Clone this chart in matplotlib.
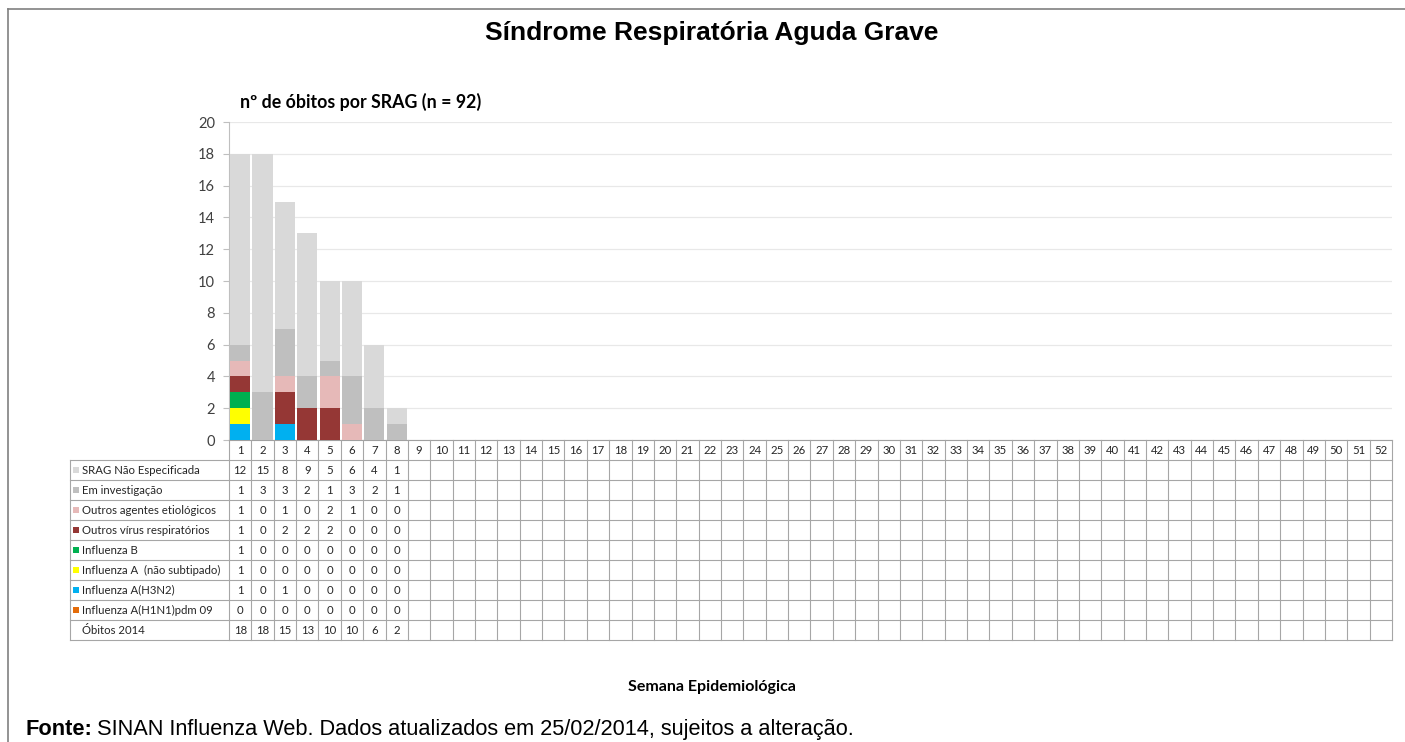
import matplotlib
matplotlib.use("Agg")
import matplotlib.pyplot as plt
from matplotlib.patches import Rectangle
from matplotlib.lines import Line2D

# ---------------- data ----------------
weeks = list(range(1, 53))
series_names = [
    "SRAG Não Especificada",
    "Em investigação",
    "Outros agentes etiológicos",
    "Outros vírus respiratórios",
    "Influenza B",
    "Influenza A  (não subtipado)",
    "Influenza A(H3N2)",
    "Influenza A(H1N1)pdm 09",
]
srag_nao_especificada = [12, 15, 8, 9, 5, 6, 4, 1]
em_investigacao = [1, 3, 3, 2, 1, 3, 2, 1]
outros_agentes = [1, 0, 1, 0, 2, 1, 0, 0]
outros_virus = [1, 0, 2, 2, 2, 0, 0, 0]
influenza_b = [1, 0, 0, 0, 0, 0, 0, 0]
influenza_a_nao_sub = [1, 0, 0, 0, 0, 0, 0, 0]
influenza_h3n2 = [1, 0, 1, 0, 0, 0, 0, 0]
influenza_h1n1 = [0, 0, 0, 0, 0, 0, 0, 0]
obitos_2014 = [18, 18, 15, 13, 10, 10, 6, 2]
total_label = "Óbitos 2014"

series_values = [srag_nao_especificada, em_investigacao, outros_agentes, outros_virus,
                 influenza_b, influenza_a_nao_sub, influenza_h3n2, influenza_h1n1]
series_colors = ["#d9d9d9", "#bfbfbf", "#e6b9b8", "#953735",
                 "#00b050", "#ffff00", "#00b0f0", "#e46c0a"]

title = "Síndrome Respiratória Aguda Grave"
subtitle = "nº de óbitos por SRAG (n = 92)"
xlabel = "Semana Epidemiológica"
source_bold = "Fonte:"
source_text = "SINAN Influenza Web. Dados atualizados em 25/02/2014, sujeitos a alteração."
yticks = [0, 2, 4, 6, 8, 10, 12, 14, 16, 18, 20]

# ---------------- layout helpers ----------------
W, H = 1405, 742
fig = plt.figure(figsize=(W / 100, H / 100), dpi=100)
fig.patch.set_facecolor("white")

def fx(px):
    return px / W

def fy(py):
    return 1 - py / H

calibri = ["Lato", "DejaVu Sans"]
arial = ["Liberation Sans", "DejaVu Sans"]

ax_l, ax_r, ax_t, ax_b = 229, 1392, 122, 440
ax = fig.add_axes([fx(ax_l), fy(ax_b), fx(ax_r - ax_l), (ax_b - ax_t) / H])

# stacked bars (bottom-up order: reverse of table order)
n = len(obitos_2014)
bottom = [0] * n
for vals, col in zip(reversed(series_values), reversed(series_colors)):
    ax.bar(weeks[:n], vals, bottom=bottom, width=0.9, color=col, linewidth=0, zorder=3)
    bottom = [b + v for b, v in zip(bottom, vals)]

ax.set_xlim(0.5, 52.5)
ax.set_ylim(0, 20)
ax.set_yticks(yticks)
ax.set_yticklabels([str(t) for t in yticks], fontfamily=calibri, fontsize=10.5, color="#404040")
ax.set_xticks([])
ax.yaxis.grid(True, color="#e8e8e8", linewidth=0.9, zorder=0)
for s in ["top", "right"]:
    ax.spines[s].set_visible(False)
ax.spines["left"].set_color("#bfbfbf")
ax.spines["bottom"].set_color("#a0a0a0")
ax.tick_params(axis="y", length=4, color="#bfbfbf", pad=6)

# ---------------- data table ----------------
tab_l, tab_t, tab_b = 70, 440, 640
unit = (ax_r - ax_l) / 52.0
left = 0.5 - (ax_l - tab_l) / unit
tax = fig.add_axes([fx(tab_l), fy(tab_b), fx(ax_r - tab_l), (tab_b - tab_t) / H])
tax.set_xlim(left, 52.5)
tax.set_ylim(10, 0)
tax.axis("off")

lc = "#a6a6a6"
lw = 0.8
for r in range(1, 11):
    tax.add_line(Line2D([left, 52.5], [r, r], color=lc, lw=lw, clip_on=False))
for k in range(53):
    x = 0.5 + k
    tax.add_line(Line2D([x, x], [0, 10], color=lc, lw=lw, clip_on=False))
tax.add_line(Line2D([left, left], [1, 10], color=lc, lw=lw, clip_on=False))

tfont = dict(fontfamily=calibri, fontsize=8.2, color="#262626")
for w in weeks:
    tax.text(w, 0.5, str(w), ha="center", va="center", **tfont)

rows = series_values + [obitos_2014]
labels = series_names + [total_label]
sq_w = 6 / unit
for r, (lab, vals) in enumerate(zip(labels, rows), start=1):
    if r <= len(series_colors):
        tax.add_patch(Rectangle((left + 3 / unit, r + 0.5 - 0.15), sq_w, 0.3,
                                facecolor=series_colors[r - 1], edgecolor="none", clip_on=False))
    tax.text(left + 12 / unit, r + 0.5, lab, ha="left", va="center", **tfont)
    for w, v in zip(weeks, vals):
        tax.text(w, r + 0.5, str(v), ha="center", va="center", **tfont)

# ---------------- texts ----------------
fig.text(fx(712), fy(33), title, ha="center", va="center", fontfamily=arial,
         fontsize=19, fontweight="bold", color="black")
fig.text(fx(240), fy(102), subtitle, ha="left", va="center", fontfamily=calibri,
         fontsize=12.8, fontweight="bold", color="black")
fig.text(fx(712), fy(687), xlabel, ha="center", va="center", fontfamily=calibri,
         fontsize=11.5, fontweight="bold", color="black")
t1 = fig.text(fx(25), fy(735), source_bold, ha="left", va="baseline", fontfamily=arial,
              fontsize=15.7, fontweight="bold", color="black")
fig.canvas.draw()
bb = t1.get_window_extent()
fig.text((bb.x1 + 5) / W, fy(735), source_text,
         ha="left", va="baseline", fontfamily=arial, fontsize=15.7, color="black")

# outer frame (left and top)
fig.add_artist(Line2D([fx(8), fx(8)], [fy(9), 0], transform=fig.transFigure, color="#808080", lw=1.2))
fig.add_artist(Line2D([fx(8), 1], [fy(9), fy(9)], transform=fig.transFigure, color="#808080", lw=1.2))

fig.savefig("out.png", dpi=100)
